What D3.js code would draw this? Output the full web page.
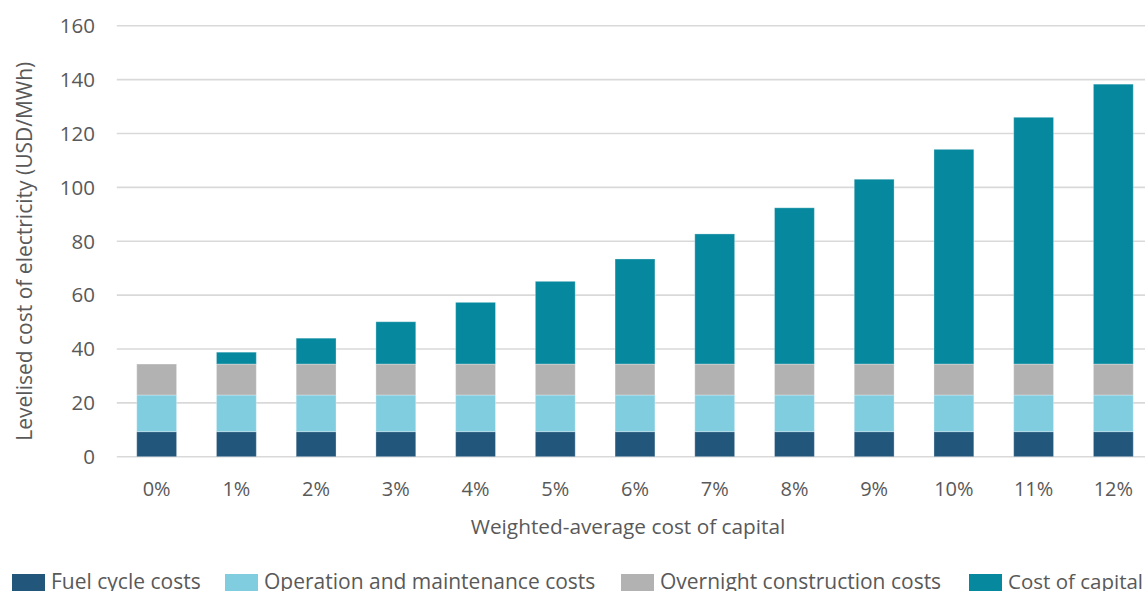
<!DOCTYPE html>
<html>
<head>
<meta charset="utf-8">
<script src="https://cdn.jsdelivr.net/npm/d3@7"></script>
<style>
  body { margin: 0; background: #fff; }
  text { font-family: "Open Sans", sans-serif; fill: #595959; }
</style>
</head>
<body>
<script>
// Data
var categories = ["0%","1%","2%","3%","4%","5%","6%","7%","8%","9%","10%","11%","12%"];
var fuel      = [9.3, 9.3, 9.3, 9.3, 9.3, 9.3, 9.3, 9.3, 9.3, 9.3, 9.3, 9.3, 9.3];
var om        = [13.6,13.6,13.6,13.6,13.6,13.6,13.6,13.6,13.6,13.6,13.6,13.6,13.6];
var overnight = [11.5,11.5,11.5,11.5,11.5,11.5,11.5,11.5,11.5,11.5,11.5,11.5,11.5];
var capital   = [0, 4.4, 9.6, 15.7, 22.9, 30.7, 39.0, 48.3, 58.0, 68.6, 79.7, 91.6, 103.9];
var yTicks = [0, 20, 40, 60, 80, 100, 120, 140, 160];
var seriesNames = ["Fuel cycle costs", "Operation and maintenance costs", "Overnight construction costs", "Cost of capital"];
var seriesColors = ["#22567b", "#81cde0", "#b2b2b2", "#06889e"];

var width = 1145, height = 591;
var x0 = 116.8, x1 = 1153.2, yTop = 25.7, yBottom = 456.7;

var svg = d3.select("body").append("svg")
    .attr("width", width)
    .attr("height", height);

var x = d3.scaleBand()
    .domain(categories)
    .range([x0, x1])
    .paddingInner(0.5)
    .paddingOuter(0.25);

var y = d3.scaleLinear()
    .domain([0, 160])
    .range([yBottom, yTop]);

// gridlines
svg.append("g")
    .selectAll("line")
    .data(yTicks)
  .enter().append("line")
    .attr("x1", x0)
    .attr("x2", width)
    .attr("y1", function(d) { return y(d); })
    .attr("y2", function(d) { return y(d); })
    .style("stroke", "#d9d9d9")
    .style("stroke-width", 1.6);

// y tick labels
svg.append("g")
    .selectAll("text")
    .data(yTicks)
  .enter().append("text")
    .attr("x", 95)
    .attr("y", function(d) { return y(d); })
    .attr("dy", "0.36em")
    .attr("text-anchor", "end")
    .style("font-size", "20.5px")
    .text(function(d) { return d; });

// stacked bars
var rows = categories.map(function(c, i) {
  return { cat: c, fuel: fuel[i], om: om[i], overnight: overnight[i], capital: capital[i] };
});
var stack = d3.stack().keys(["fuel", "om", "overnight", "capital"]);
var layers = stack(rows);

svg.append("g")
    .selectAll("g")
    .data(layers)
  .enter().append("g")
    .style("fill", function(d, i) { return seriesColors[i]; })
  .selectAll("rect")
    .data(function(d) { return d.filter(function(s) { return s[1] - s[0] > 0; }); })
  .enter().append("rect")
    .attr("x", function(d) { return x(d.data.cat); })
    .attr("width", x.bandwidth())
    .attr("y", function(d) { return y(d[1]); })
    .attr("height", function(d) { return y(d[0]) - y(d[1]); })
    .style("stroke", "#fff")
    .style("stroke-opacity", 0.3)
    .style("stroke-width", 1);

// x tick labels
svg.append("g")
    .selectAll("text")
    .data(categories)
  .enter().append("text")
    .attr("x", function(d) { return x(d) + x.bandwidth() / 2; })
    .attr("y", 496)
    .attr("text-anchor", "middle")
    .style("font-size", "20px")
    .text(function(d) { return d; });

// axis titles
svg.append("text")
    .attr("x", 628)
    .attr("y", 534)
    .attr("text-anchor", "middle")
    .style("font-size", "20.8px")
    .text("Weighted-average cost of capital");

svg.append("text")
    .attr("transform", "translate(32," + ((yTop + yBottom) / 2 + 10) + ") rotate(-90)")
    .attr("text-anchor", "middle")
    .style("font-size", "21px")
    .text("Levelised cost of electricity (USD/MWh)");

// legend
var legendX = [12, 225, 621, 969];
var legend = svg.append("g")
    .selectAll("g")
    .data(seriesNames)
  .enter().append("g")
    .attr("transform", function(d, i) { return "translate(" + legendX[i] + ",574)"; });

legend.append("rect")
    .attr("width", 33)
    .attr("height", 20)
    .style("fill", function(d, i) { return seriesColors[i]; });

legend.append("text")
    .attr("x", 39)
    .attr("y", 15)
    .style("font-size", function(d, i) { return i === 3 ? "20.5px" : "21px"; })
    .text(function(d) { return d; });
</script>
</body>
</html>
